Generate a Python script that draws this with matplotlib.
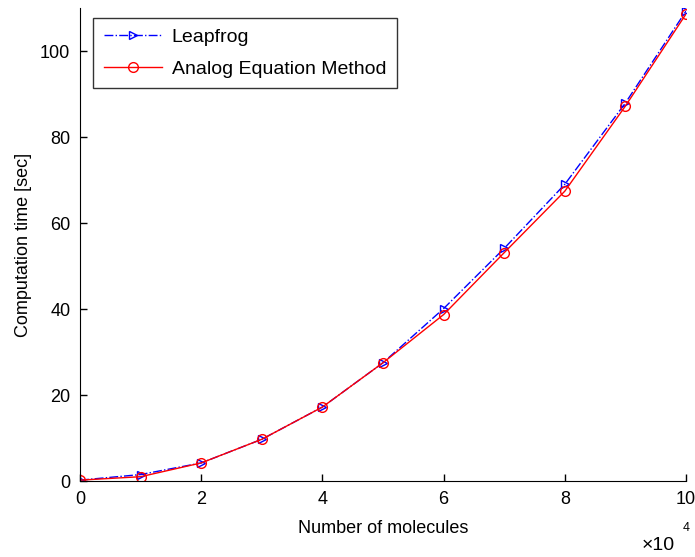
import matplotlib
matplotlib.use("Agg")
import matplotlib.pyplot as plt
import numpy as np

# number of molecules (x 10^4) and computation times [sec]
molecules = [0, 1, 2, 3, 4, 5, 6, 7, 8, 9, 10]
leapfrog = [0.2, 1.5, 4.2, 9.7, 17.2, 27.5, 40.1, 54.1, 69.0, 87.9, 109.3]
aem = [0.2, 1.0, 4.2, 9.7, 17.2, 27.5, 38.7, 53.1, 67.4, 87.2, 108.6]

plt.rcParams['font.family'] = ['Liberation Sans', 'DejaVu Sans']
plt.rcParams['font.size'] = 13

W, H = 695, 557
fig = plt.figure(figsize=(W / 100, H / 100), dpi=100)
ax = fig.add_axes([80 / W, 1 - 481 / H, 606 / W, 473 / H])

ax.plot(molecules, leapfrog, color='blue', linestyle='-.', linewidth=1,
        marker='>', markersize=6, markerfacecolor='none', markeredgecolor='blue',
        label='Leapfrog')
ax.plot(molecules, aem, color='red', linestyle='-', linewidth=1,
        marker='o', markersize=7, markerfacecolor='none', markeredgecolor='red',
        label='Analog Equation Method')

ax.set_xlim(0, 10)
ax.set_ylim(0, 110)
ax.set_xticks(range(0, 11, 2))
ax.set_yticks(range(0, 101, 20))
ax.spines['top'].set_visible(False)
ax.spines['right'].set_visible(False)
ax.tick_params(direction='in', length=5, width=1, pad=7, labelsize=13)

ax.set_xlabel('Number of molecules', labelpad=9)
ax.set_ylabel('Computation time [sec]', labelpad=6)

# exponent of the x axis, placed like MATLAB does
fig.text(642 / W, 1 - 545 / H, '\u00d710', ha='left', va='center', fontsize=14)
fig.text(683 / W, 1 - 528 / H, '4', ha='left', va='center', fontsize=9)

leg = ax.legend(loc='upper left', bbox_to_anchor=(13 / 606, 1 - 10 / 473),
                frameon=True, fancybox=False, edgecolor='black', borderpad=0.55,
                borderaxespad=0, handlelength=3.0, handletextpad=0.5,
                labelspacing=0.7, fontsize=14)
leg.get_frame().set_linewidth(1)

fig.savefig('out.png', dpi=100)
